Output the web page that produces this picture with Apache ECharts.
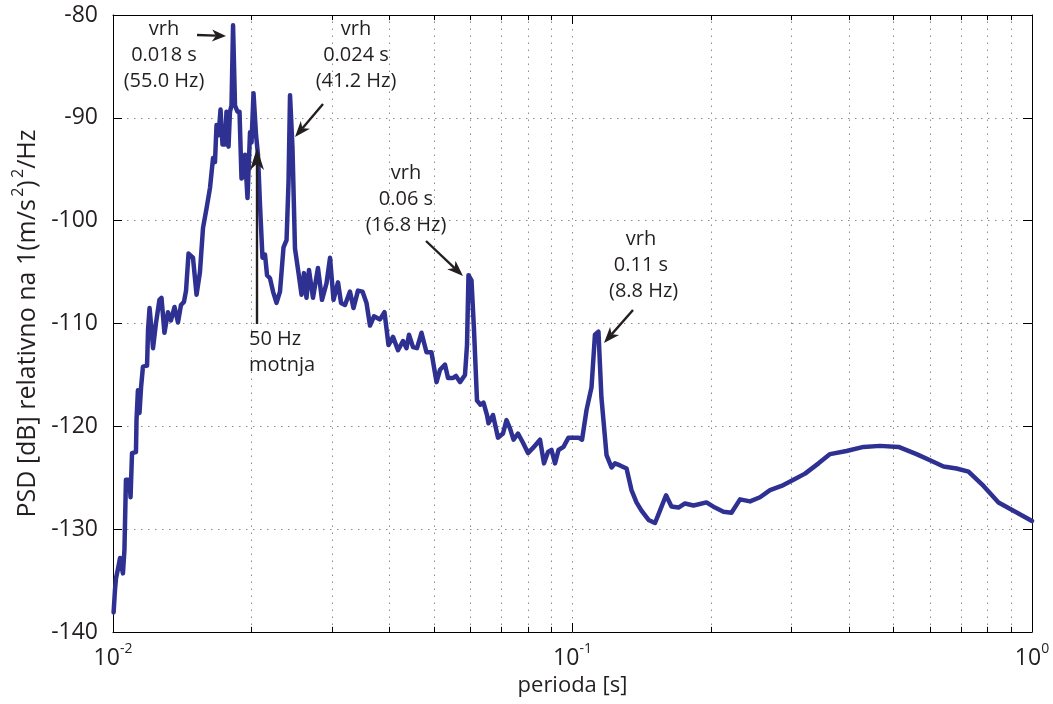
<!DOCTYPE html>
<html><head><meta charset="utf-8">
<script src="https://cdn.jsdelivr.net/npm/echarts@6/dist/echarts.min.js"></script>
<style>html,body{margin:0;padding:0;background:#fff}#c{width:1053px;height:704px}</style>
</head><body><div id="c"></div><script>
// ---- data ----
const periods = [
0.01003,0.01010,0.01015,0.01028,0.01036,0.01051,0.01059,0.01067,0.01086,0.01092,
0.01100,0.01122,0.01125,0.01133,0.01142,0.01151,0.01162,0.01186,0.01192,0.01201,
0.01213,0.01222,0.01240,0.01262,0.01275,0.01294,0.01317,0.01337,0.01361,0.01385,
0.01406,0.01427,0.01442,0.01460,0.01493,0.01520,0.01546,0.01570,0.01598,0.01626,
0.01651,0.01667,0.01680,0.01697,0.01714,0.01731,0.01753,0.01766,0.01784,0.01797,
0.01811,0.01825,0.01843,0.01866,0.01885,0.01904,0.01928,0.01938,0.01962,0.01987,
0.02002,0.02022,0.02048,0.02068,0.02089,0.02115,0.02142,0.02164,0.02196,0.02230,
0.02269,0.02309,0.02350,0.02386,0.02410,0.02428,0.02458,0.02489,0.02534,0.02572,
0.02604,0.02637,0.02670,0.02724,0.02793,0.02850,0.02915,0.02967,0.03019,0.03088,
0.03135,0.03198,0.03279,0.03337,0.03413,0.03491,0.03562,0.03625,0.03698,0.03811,
0.03898,0.03977,0.04068,0.04171,0.04277,0.04353,0.04407,0.04497,0.04588,0.04692,
0.04811,0.04933,0.05059,0.05148,0.05279,0.05359,0.05495,0.05578,0.05691,0.05835,
0.05894,0.05938,0.06028,0.06104,0.06197,0.06307,0.06402,0.06515,0.06565,0.06714,
0.06885,0.07059,0.07184,0.07311,0.07441,0.07610,0.07803,0.08001,0.08204,0.08497,
0.08669,0.08845,0.09001,0.09161,0.09323,0.09559,0.09802,0.1031,0.1049,0.1073,
0.1100,0.1119,0.1139,0.1156,0.1186,0.1216,0.1237,0.1269,0.1311,0.1344,
0.1378,0.1413,0.1464,0.1512,0.1550,0.1598,0.1642,0.1701,0.1757,0.1834,
0.1957,0.2042,0.2131,0.2218,0.2315,0.2434,0.2559,0.2691,0.2850,0.3027,
0.3207,0.3431,0.3635,0.3948,0.4299,0.4669,0.5123,0.5606,0.5999,0.6419,
0.6851,0.7275,0.7843,0.8455,0.9115,1.000];
const psd = [
-138.1,-135.9,-134.8,-133.6,-132.8,-134.3,-132.0,-125.2,-125.2,-126.9,
-122.6,-122.5,-119.4,-116.5,-118.7,-116.2,-114.2,-114.1,-110.6,-108.5,
-110.6,-112.4,-110.0,-107.7,-107.5,-110.9,-108.9,-109.7,-108.4,-109.9,
-108.2,-107.9,-106.8,-103.2,-103.6,-107.2,-105.0,-100.7,-98.8,-96.8,
-93.9,-94.3,-90.7,-91.7,-89.2,-92.6,-92.6,-89.4,-92.8,-89.4,
-88.8,-81.0,-88.8,-89.4,-89.4,-95.9,-95.6,-93.6,-97.8,-91.4,
-92.4,-87.6,-91.7,-93.6,-98.5,-103.6,-103.3,-105.3,-105.6,-106.9,
-108.0,-106.9,-102.6,-101.9,-96.2,-87.8,-92.9,-102.7,-105.1,-107.2,
-105.1,-107.5,-104.8,-107.5,-104.6,-107.7,-106.1,-103.6,-107.7,-106.0,
-108.0,-108.2,-106.9,-108.5,-106.8,-106.9,-108.0,-110.2,-109.3,-109.6,
-108.9,-112.1,-111.3,-112.6,-111.7,-112.4,-111.1,-112.3,-112.4,-110.9,
-112.8,-112.8,-115.7,-114.5,-114.0,-115.3,-115.3,-115.1,-115.7,-115.0,
-112.1,-105.3,-105.8,-110.6,-117.5,-117.9,-117.7,-118.9,-119.7,-118.9,
-121.1,-120.7,-119.4,-120.2,-121.3,-120.7,-121.6,-122.6,-122.1,-121.3,
-123.6,-122.5,-122.3,-123.6,-122.3,-122.0,-121.1,-121.1,-121.3,-118.4,
-116.2,-111.1,-110.8,-117.2,-122.8,-124.0,-123.6,-123.8,-124.1,-126.2,
-127.4,-128.2,-129.1,-129.4,-128.2,-126.7,-127.8,-127.9,-127.5,-127.7,
-127.4,-127.9,-128.3,-128.4,-127.1,-127.3,-126.9,-126.2,-125.8,-125.2,
-124.6,-123.6,-122.7,-122.4,-122.0,-121.9,-122.0,-122.7,-123.3,-123.9,
-124.1,-124.4,-125.8,-127.4,-128.2,-129.2];
const yMin = -140, yMax = -80, yStep = 10;
const xMin = 0.01, xMax = 1;
const minorTicks = [0.02,0.03,0.04,0.05,0.06,0.07,0.08,0.09,0.2,0.3,0.4,0.5,0.6,0.7,0.8,0.9];
const peakLabels = [
  ['vrh','0.018 s','(55.0 Hz)'],
  ['vrh','0.024 s','(41.2 Hz)'],
  ['vrh','0.06 s','(16.8 Hz)'],
  ['vrh','0.11 s',' (8.8 Hz)']
];
const disturbLabel = ['50 Hz','motnja'];
const xTitle = 'perioda [s]';

// ---- styling / layout ----
const FONT = '"Open Sans", "DejaVu Sans", sans-serif';
const INK = '#231f20';
const LINE = '#2e3192';
const GRIDC = '#8c8c8c';
const dotted = {type:[1.5,5.5], color:GRIDC, width:1};

function arrow(x1,y1,x2,y2,len,hw){
  const dx=x2-x1, dy=y2-y1, L=Math.hypot(dx,dy), ux=dx/L, uy=dy/L, nx=-uy, ny=ux;
  const bx=x2-len*ux, by=y2-len*uy, mx=x2-0.72*len*ux, my=y2-0.72*len*uy;
  return [
    {type:'line', silent:true, z:100, shape:{x1:x1,y1:y1,x2:mx,y2:my}, style:{stroke:INK,lineWidth:2.4}},
    {type:'polygon', silent:true, z:100, shape:{points:[[x2,y2],[bx+hw*nx,by+hw*ny],[mx,my],[bx-hw*nx,by-hw*ny]]}, style:{fill:INK}}
  ];
}
function label(lines,x,y,align){
  return {type:'text', silent:true, z:100, x:x, y:y,
    style:{text:lines.join('\n'), font:'20px '+FONT, fill:INK, align:align||'center', verticalAlign:'middle', lineHeight:26}};
}

const minorGridLines = minorTicks.map(v=>({xAxis:v}));
const minorTickMarks = [];
minorTicks.forEach(v=>{
  minorTickMarks.push([{coord:[v,yMin]},{coord:[v,yMin+0.5]}]);
  minorTickMarks.push([{coord:[v,yMax]},{coord:[v,yMax-0.5]}]);
});
const curve = periods.map((p,i)=>[p,psd[i]]);

const chart = echarts.init(document.getElementById('c'), null, {renderer:'canvas'});
chart.setOption({
  animation:false,
  backgroundColor:'#fff',
  grid:{left:113,right:21,top:15,bottom:72,containLabel:false},
  xAxis:[{
    type:'log', logBase:10, min:xMin, max:xMax,
    axisLine:{show:true,onZero:false,lineStyle:{color:'#000',width:1}},
    axisTick:{show:true,inside:true,length:9,lineStyle:{color:'#000'}},
    axisLabel:{margin:10,color:INK,
      formatter:v=>'{b|10}{s|'+Math.round(Math.log10(v))+'}',
      rich:{b:{fontFamily:FONT,fontSize:23,color:INK,lineHeight:28,verticalAlign:'bottom'},
            s:{fontFamily:FONT,fontSize:14,color:INK,lineHeight:15,verticalAlign:'top'}}},
    splitLine:{show:true,lineStyle:dotted},
    name:xTitle, nameLocation:'middle', nameGap:42,
    nameTextStyle:{fontFamily:FONT,fontSize:22,color:INK}
  },{
    type:'log', logBase:10, min:xMin, max:xMax, position:'top',
    axisLine:{show:true,onZero:false,lineStyle:{color:'#000',width:1}},
    axisTick:{show:true,inside:true,length:9,lineStyle:{color:'#000'}},
    axisLabel:{show:false}, splitLine:{show:false}
  }],
  yAxis:[{
    type:'value', min:yMin, max:yMax, interval:yStep,
    axisLine:{show:true,onZero:false,lineStyle:{color:'#000',width:1}},
    axisTick:{show:true,inside:true,length:9,lineStyle:{color:'#000'}},
    axisLabel:{margin:15,color:INK,fontFamily:FONT,fontSize:23},
    splitLine:{show:true,lineStyle:dotted},
    name:'{n|PSD [dB] relativno na 1(m/s}{g| }{s|2}{n|)}{g| }{s|2}{n|/Hz}',
    nameLocation:'middle', nameGap:66,
    nameTextStyle:{color:INK, rich:{
      n:{fontFamily:FONT,fontSize:25,color:INK,lineHeight:30,verticalAlign:'bottom'},
      g:{fontFamily:FONT,fontSize:9,lineHeight:10},
      s:{fontFamily:FONT,fontSize:16,color:INK,lineHeight:17,verticalAlign:'top'}}}
  },{
    type:'value', min:yMin, max:yMax, interval:yStep, position:'right',
    axisLine:{show:true,onZero:false,lineStyle:{color:'#000',width:1}},
    axisTick:{show:true,inside:true,length:9,lineStyle:{color:'#000'}},
    axisLabel:{show:false}, splitLine:{show:false}
  }],
  series:[{
    type:'line', data:curve, showSymbol:false, silent:true, z:1,
    lineStyle:{opacity:0},
    markLine:{silent:true, symbol:['none','none'], label:{show:false},
      lineStyle:dotted, data:minorGridLines}
  },{
    type:'line', data:curve, showSymbol:false, silent:true, z:2,
    lineStyle:{opacity:0},
    markLine:{silent:true, symbol:['none','none'], label:{show:false},
      lineStyle:{type:'solid',color:'#000',width:1}, data:minorTickMarks}
  },{
    type:'line', data:curve, showSymbol:false, z:5,
    lineStyle:{color:LINE,width:4.5,join:'round',cap:'round'},
    itemStyle:{color:LINE}
  }],
  graphic:[
    label(peakLabels[0],164,55),
    label(peakLabels[1],356,55),
    label(peakLabels[2],406,199),
    label(peakLabels[3],641,265),
    label(disturbLabel,249,352,'left'),
    ...arrow(197,35,226,36,14,6),
    ...arrow(323,104,295,137,16,6),
    ...arrow(426,241,463,276,16,6),
    ...arrow(633,310,604,343,16,6),
    ...arrow(257,324,257,148,22,7)
  ]
});
</script></body></html>
